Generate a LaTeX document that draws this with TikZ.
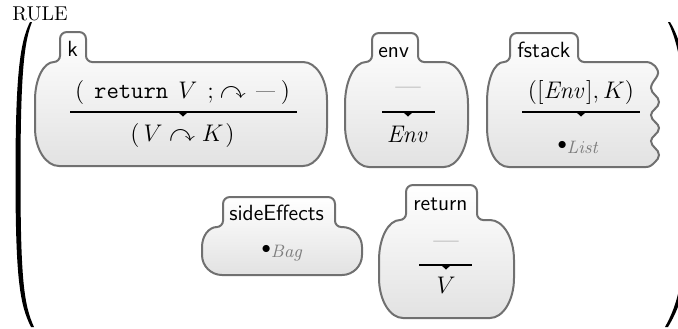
\documentclass[tikz,border=0pt]{standalone}
\usepackage{amssymb}
\definecolor{celledge}{RGB}{112,112,112}
\definecolor{cellfill}{RGB}{226,226,226}
\definecolor{dimtext}{RGB}{125,125,125}
\definecolor{dashgray}{RGB}{140,140,140}
\tikzset{
  cellshape/.style={draw=celledge, line width=1pt, top color=white, bottom color=cellfill},
  celllabel/.style={font=\fontsize{11}{13}\selectfont\sffamily, inner sep=0pt, anchor=base west},
  mathtext/.style={font=\fontsize{13}{15}\selectfont, inner sep=0pt, anchor=base},
  rulebar/.style={line width=0.6pt},
  bigparen/.style={fill=black},
}
\newcommand\graydash{{\color{dashgray}\mbox{---}}}
\newcommand\smalldash{{\color{dashgray}\rule[3.2pt]{9.5pt}{0.45pt}}}
% #1 L, #2 T, #3 R, #4 B, #5 tab left, #6 tab right, #7 tab top, #8 rx, #9 ry
\newcommand\cellpath[9]{%
  \pgfmathsetmacro\cax{min(#8,#5-6-#1)}%
  \path[cellshape] (#1,#2+#9) .. controls (#1,#2+0.45*#9) and (#5-6-0.55*\cax,#2) .. (#5-6,#2)
    .. controls (#5-3,#2) and (#5,#2-3) .. (#5,#2-6)
    -- (#5,#7+7) .. controls (#5,#7+3) and (#5+3,#7) .. (#5+7,#7)
    -- (#6-7,#7) .. controls (#6-3,#7) and (#6,#7+3) .. (#6,#7+7)
    -- (#6,#2-6) .. controls (#6,#2-3) and (#6+3,#2) .. (#6+6,#2)
    -- (#3-#8,#2) .. controls (#3-0.45*#8,#2) and (#3,#2+0.45*#9) .. (#3,#2+#9)
    -- (#3,#4-#9) .. controls (#3,#4-0.45*#9) and (#3-0.45*#8,#4) .. (#3-#8,#4)
    -- (#1+#8,#4) .. controls (#1+0.45*#8,#4) and (#1,#4-0.45*#9) .. (#1,#4-#9)
    -- cycle;}
% fraction bar with small arrowhead: #1 left coord, #2 right coord, #3 mid coord
\newcommand\fracbar[3]{%
  \draw[rulebar] (#1) -- (#2);
  \fill (#3) ++(-5,0) -- ++(10,0) -- ++(-5,4.5) -- cycle;}
\begin{document}
\begin{tikzpicture}[x=0.5pt,y=-0.5pt]
\useasboundingbox (0,0) rectangle (678,328);

% big parentheses
\fill[bigparen] (30,22) .. controls (20,42) and (15.5,75) .. (15.5,175)
   .. controls (15.5,280) and (20,305) .. (31,327) -- (34,327)
   .. controls (24,305) and (20.5,280) .. (20.5,175)
   .. controls (20.5,75) and (24,42) .. (32,22) -- cycle;
\begin{scope}
\clip (0,0) rectangle (678,328);
\fill[bigparen] (670,22) .. controls (681,40) and (692,75) .. (692,175)
   .. controls (692,280) and (681,305) .. (668,327) -- (665,327)
   .. controls (677,305) and (687,280) .. (687,175)
   .. controls (687,75) and (677,40) .. (668,22) -- cycle;
\end{scope}

\node[font=\fontsize{10}{12}\selectfont, inner sep=0pt, anchor=base west] (rule) at (12,20) {RULE};

% ---- k cell
\cellpath{35}{62}{327}{166}{60}{86}{32}{24}{38}
\node[celllabel] (klabel) at (67,56) {k};
\node[mathtext] (ktop) at (182.5,98) {$(\hspace{5pt}\mathtt{return}\hspace{5pt}V\hspace{5pt}\mathtt{;}\hspace{3pt}{\curvearrowright}\hspace{5pt}\smalldash\hspace{3pt})$};
\node[mathtext] (kbot) at (182.5,141) {$(\hspace{2pt}V \curvearrowright K\hspace{1pt})$};
\coordinate (kl) at (70,112); \coordinate (kr) at (297,112); \coordinate (km) at (183,112);
\fracbar{kl}{kr}{km}

% ---- env cell
\cellpath{345}{62}{468}{167}{372}{418}{33}{24}{42}
\node[celllabel] (envlabel) at (378,57) {env};
\node[mathtext] (envtop) at (408,94) {$\graydash$};
\node[mathtext] (envbot) at (408,142) {$\mathit{Env}$};
\coordinate (el) at (382,112); \coordinate (er) at (435,112); \coordinate (em) at (408,112);
\fracbar{el}{er}{em}

% ---- fstack cell (open on the right)
\path[cellshape] (487,102) .. controls (487,80) and (494,62) .. (504,62)
   .. controls (507,62) and (510,59) .. (510,56) -- (510,40)
   .. controls (510,36) and (513,33) .. (517,33) -- (571,33)
   .. controls (575,33) and (578,36) .. (578,40) -- (578,56)
   .. controls (578,59) and (581,62) .. (584,62) -- (646,62)
   .. controls (650,62) and (653,64) .. (655,66) -- (657,69)
   .. controls (659,72) and (658,75) .. (656,78)
   .. controls (653,82) and (651,85) .. (651,88)
   .. controls (651,94) and (659,96) .. (659,102)
   .. controls (659,108) and (651,110) .. (651,115)
   .. controls (651,121) and (659,123) .. (659,128)
   .. controls (659,134) and (651,136) .. (651,141)
   .. controls (651,147) and (659,149) .. (659,155)
   .. controls (659,158) and (657,160) .. (655,162)
   .. controls (652,165) and (650,167) .. (646,167)
   -- (509,167) .. controls (496,167) and (487,150) .. (487,127) -- cycle;
\node[celllabel] (fslabel) at (517,57) {fstack};
\node[mathtext] (fstop) at (581,98) {$([\mathit{Env}], K)$};
\node[mathtext] (fsbot) at (579,149) {${\scriptstyle\bullet}_{\color{dimtext}\mathit{List}}$};
\coordinate (fl) at (522,112); \coordinate (fr) at (640,112); \coordinate (fm) at (581,112);
\fracbar{fl}{fr}{fm}

% ---- sideEffects cell
\cellpath{202}{227}{362}{275}{223}{335}{197}{20}{20}
\node[celllabel] (selabel) at (229,220) {sideEffects};
\node[mathtext] (sebody) at (283,253) {${\scriptstyle\bullet}_{\color{dimtext}\mathit{Bag}}$};

% ---- return cell
\cellpath{379}{220}{514}{318}{406}{477}{185}{24}{40}
\node[celllabel] (retlabel) at (413,210) {return};
\node[mathtext] (rettop) at (446,248) {$\graydash$};
\node[mathtext] (retbot) at (446,293) {$V$};
\coordinate (rl) at (419,265); \coordinate (rr) at (472,265); \coordinate (rm) at (446,265);
\fracbar{rl}{rr}{rm}
\end{tikzpicture}
\end{document}
